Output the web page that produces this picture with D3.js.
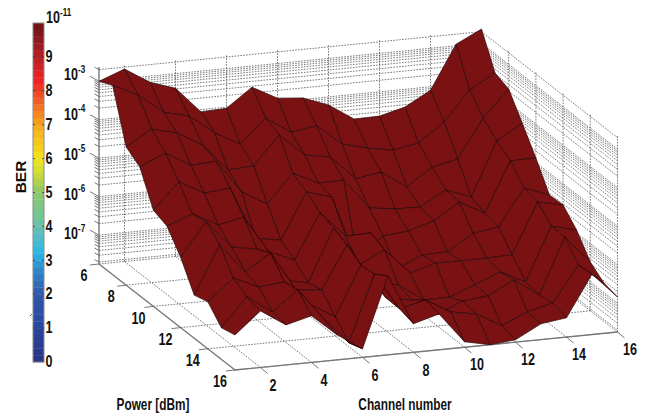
<!DOCTYPE html>
<html>
<head>
<meta charset="utf-8">
<script src="https://cdn.jsdelivr.net/npm/d3@7"></script>
<style>
html,body{margin:0;padding:0;background:#fff;}
text{font-family:"Liberation Sans",Arial,sans-serif;font-weight:bold;fill:#111;}
</style>
</head>
<body>
<script>
// log10(BER), one row per power, channels 1..16
var ber6  = [-3.00,-2.75,-3.16,-3.38,-4.06,-4.03,-3.55,-3.90,-3.96,-4.21,-4.64,-4.63,-4.46,-4.09,-2.96,-2.63];
var ber7  = [-2.83,-3.15,-3.66,-3.83,-4.33,-4.69,-4.08,-4.51,-4.41,-4.95,-5.12,-5.24,-5.12,-4.64,-3.87,-3.50];
var ber8  = [-4.16,-3.76,-3.93,-4.31,-5.02,-4.98,-4.24,-4.83,-4.94,-5.58,-5.47,-5.92,-5.47,-5.33,-4.33,-3.64];
var ber9  = [-4.40,-4.11,-4.49,-4.45,-5.32,-5.70,-4.96,-5.28,-5.27,-6.06,-6.15,-6.17,-5.79,-6.04,-4.65,-4.25];
var ber10 = [-5.25,-4.58,-4.94,-4.87,-6.24,-6.36,-5.17,-5.37,-7.12,-6.51,-6.45,-6.25,-5.83,-6.18,-4.89,-4.88];
var ber11 = [-5.39,-5.14,-5.49,-5.35,-6.32,-6.60,-5.44,-6.11,-6.09,-7.10,-6.80,-6.78,-6.36,-6.27,-5.32,-5.57];
var ber12 = [-5.92,-5.07,-5.79,-5.91,-6.78,-6.92,-5.56,-6.58,-6.26,-6.92,-6.73,-6.74,-6.73,-6.72,-5.41,-5.55];
var ber13 = [-6.63,-5.39,-6.16,-5.73,-6.76,-6.83,-5.72,-6.75,-6.89,-7.35,-7.34,-7.09,-6.82,-7.14,-5.76,-5.93];
var ber14 = [-6.53,-5.98,-6.28,-6.21,-6.85,-7.25,-5.97,-6.89,-7.01,-7.44,-7.17,-7.10,-6.75,-7.21,-5.77,-6.48];
var ber15 = [-6.93,-6.19,-6.65,-6.14,-6.94,-7.65,-5.93,-6.90,-6.73,-7.11,-7.23,-7.60,-7.31,-7.14,-6.22,-6.75];
var ber16 = [-6.84,-6.28,-6.71,-6.54,-7.10,-7.53,-5.70,-7.01,-6.82,-7.61,-7.75,-7.69,-7.34,-7.25,-6.18,-6.84];

var berRows = [ber6,ber7,ber8,ber9,ber10,ber11,ber12,ber13,ber14,ber15,ber16];
var channels = [1,2,3,4,5,6,7,8,9,10,11,12,13,14,15,16];
var powers = [6,7,8,9,10,11,12,13,14,15,16];
var channelTicks = [2,4,6,8,10,12,14,16];
var powerTicks = [6,8,10,12,14,16];
var berDecades = [-3,-4,-5,-6,-7];
var colorTicks = [0,1,2,3,4,5,6,7,8,9];
var colorStops = [0,1,2,2.8,3.2,3.8,4.2,5,5.5,6,7,7.7,8.3,9,9.5,10];
var colorValues = ["#2a2f80","#2a46a0","#2f58a8","#2f8fcf","#25b7e8","#5fbcc0","#6fc49a","#8cc86a","#c5d83c","#f2e61e","#f7a71e","#f15f25","#ee2424","#b81f26","#8a1a1f","#6d1216"];

var width = 646, height = 417;
var svg = d3.select("body").append("svg")
    .attr("width", width).attr("height", height)
    .style("display", "block");

// the box is an orthographic view, so three scales just add up
var chanU = d3.scaleLinear().domain([1,16]).range([0,1]);
var powV = d3.scaleLinear().domain([6,16]).range([0,1]);
var berH = d3.scaleLog().domain([Math.pow(10,-7.75), Math.pow(10,-2.63)]).range([0,197]);

function project(c, p, ber){
    var u = chanU(c), v = powV(p);
    return [99 + 382.5*u + 136*v, 264 - 38*u + 106*v - berH(ber)];
}

var floorBer = berH.domain()[0];
var topBer = berH.domain()[1];
var minorBer = [];
d3.range(-8,-2).forEach(function(e){
    d3.range(1,10).forEach(function(k){
        var b = k*Math.pow(10,e);
        if(b >= floorBer && b <= topBer) minorBer.push(b);
    });
});

var gridLayer = svg.append("g")
    .attr("fill","none").attr("stroke","#555")
    .attr("stroke-width",0.8).attr("stroke-dasharray","1.6,1.3");

function seg(layer, a, b){
    return layer.append("line")
        .attr("x1",a[0]).attr("y1",a[1]).attr("x2",b[0]).attr("y2",b[1]);
}

// floor grid
channelTicks.forEach(function(c){ seg(gridLayer, project(c,6,floorBer), project(c,16,floorBer)); });
powerTicks.forEach(function(p){ seg(gridLayer, project(1,p,floorBer), project(16,p,floorBer)); });

// back walls
minorBer.forEach(function(b){
    seg(gridLayer, project(1,6,b), project(16,6,b));
    seg(gridLayer, project(16,6,b), project(16,16,b));
});
channelTicks.forEach(function(c){ seg(gridLayer, project(c,6,floorBer), project(c,6,topBer)); });
powerTicks.forEach(function(p){ seg(gridLayer, project(16,p,floorBer), project(16,p,topBer)); });

// axis lines and ticks
var axisLayer = svg.append("g").attr("stroke","#777").attr("stroke-width",1.4);
seg(axisLayer, project(1,6,floorBer), project(1,6,topBer));
seg(axisLayer, project(1,6,floorBer), project(1,16,floorBer));
seg(axisLayer, project(1,16,floorBer), project(16,16,floorBer));

var tickLayer = svg.append("g").attr("stroke","#666").attr("stroke-width",0.9);
powerTicks.forEach(function(p){
    var a = project(1,p,floorBer);
    seg(tickLayer, a, [a[0]-9, a[1]+1]);
});
channelTicks.forEach(function(c){
    var a = project(c,16,floorBer);
    seg(tickLayer, a, [a[0]+7, a[1]+6]);
});
minorBer.forEach(function(b){
    var a = project(1,6,b);
    var major = Math.abs(Math.log10(b) - Math.round(Math.log10(b))) < 1e-6;
    seg(tickLayer, a, major ? [a[0]-9, a[1]-5] : [a[0]-4.5, a[1]-2.5]);
});

// surface, painted from the far corner to the near one
var cells = [];
d3.range(powers.length-1).forEach(function(i){
    d3.range(channels.length-2,-1,-1).forEach(function(j){
        cells.push([
            project(channels[j],powers[i],Math.pow(10,berRows[i][j])),
            project(channels[j+1],powers[i],Math.pow(10,berRows[i][j+1])),
            project(channels[j+1],powers[i+1],Math.pow(10,berRows[i+1][j+1])),
            project(channels[j],powers[i+1],Math.pow(10,berRows[i+1][j]))
        ]);
    });
});
var cellLine = d3.line().curve(d3.curveLinearClosed);
svg.append("g").selectAll("path").data(cells).join("path")
    .attr("d", function(d){ return cellLine(d); })
    .attr("fill","#7a1214")
    .attr("stroke","#220404")
    .attr("stroke-width",0.65)
    .attr("stroke-linejoin","round");

// narrow bold labels
function label(x, y, str, size, sx, anchor, rot){
    var t = svg.append("text")
        .attr("transform","translate("+x+","+y+")"+(rot ? " rotate("+rot+")" : "")+" scale("+sx+",1)")
        .attr("text-anchor",anchor || "middle")
        .attr("dominant-baseline","central")
        .style("font-size",size+"px")
        .text(str);
    return t;
}
function powerLabel(x, y, exp){
    var t = label(x, y, "10", 17, 0.74, "start");
    t.append("tspan").attr("dy",-6).style("font-size","11px").text(exp);
}

powerTicks.forEach(function(p){
    var a = project(1,p,floorBer);
    label(a[0]-15, a[1]+11, p, 17, 0.74);
});
channelTicks.forEach(function(c){
    var a = project(c,16,floorBer);
    label(a[0]+12.5, a[1]+17, c, 17, 0.74);
});
berDecades.forEach(function(e){
    var a = project(1,6,Math.pow(10,e));
    powerLabel(64, a[1]-7+(-3-e)*1.2, String(e));
});

label(153, 404, "Power [dBm]", 16, 0.74);
label(405, 404, "Channel number", 16, 0.74);
label(20, 177, "BER", 15.5, 1, "middle", -90);

// colour bar
var colorY = d3.scaleLinear().domain([0,10]).range([362,23]);
var colorFill = d3.scaleLinear().domain(colorStops).range(colorValues);
var bands = d3.range(0,10,0.2);
svg.append("g").selectAll("rect").data(bands).join("rect")
    .attr("x",33).attr("width",11)
    .attr("y",function(d){ return colorY(d+0.2); })
    .attr("height",function(d){ return colorY(d)-colorY(d+0.2)+0.3; })
    .attr("fill",function(d){ return colorFill(d+0.1); });
svg.append("rect").attr("x",33).attr("y",23).attr("width",11).attr("height",339)
    .attr("fill","none").attr("stroke","#8a8a8a").attr("stroke-width",1);

var barTicks = svg.append("g").attr("stroke","#333").attr("stroke-width",0.8);
colorTicks.slice(1).forEach(function(v){
    seg(barTicks,[33,colorY(v)],[35,colorY(v)]);
    seg(barTicks,[42,colorY(v)],[44,colorY(v)]);
});
seg(barTicks,[30,316],[32,314]);
colorTicks.forEach(function(v){
    label(49, colorY(v)-1, v, 17, 0.74, "middle");
});
var topLabel = label(46, 17, "10", 17, 0.74, "start");
topLabel.append("tspan").attr("dy",-6).style("font-size","11px").text("-11");
</script>
</body>
</html>
